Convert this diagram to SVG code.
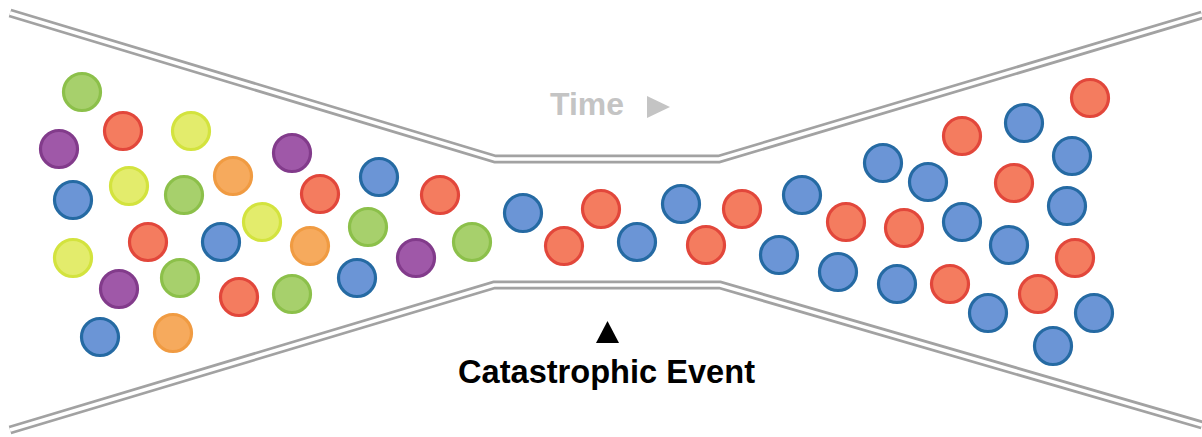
<svg xmlns="http://www.w3.org/2000/svg" width="1202" height="437" viewBox="0 0 1202 437">
<style>
.wall{fill:none;stroke:#a2a2a2;stroke-width:9;stroke-linejoin:miter}
.gap{fill:none;stroke:#ffffff;stroke-width:3.5;stroke-linejoin:miter}
circle{stroke-width:3.2}
.g{fill:#a7d06c;stroke:#8cc04a}
.r{fill:#f47c5f;stroke:#e2473b}
.y{fill:#e3ec6c;stroke:#d3e33e}
.p{fill:#9f58a8;stroke:#823b8b}
.b{fill:#6b95d6;stroke:#256aa3}
.o{fill:#f6aa5d;stroke:#f09b42}
.lbl{font-family:"Liberation Sans",Arial,Helvetica,sans-serif;font-weight:bold}
</style>
<rect width="1202" height="437" fill="#ffffff"/>
<g id="funnel">
<path class="wall" d="M10,13 L495,159 L719,159 L1202,15"/>
<path class="wall" d="M10,430 L494,285 L720,285 L1202,425"/>
<path class="gap" d="M10,13 L495,159 L719,159 L1202,15"/>
<path class="gap" d="M10,430 L494,285 L720,285 L1202,425"/>
</g>
<g id="particles-before">
<circle class="g" cx="82" cy="92" r="18.5"/>
<circle class="p" cx="59" cy="149" r="18.5"/>
<circle class="r" cx="123" cy="131" r="18.5"/>
<circle class="y" cx="191" cy="131" r="18.5"/>
<circle class="b" cx="73" cy="200" r="18.5"/>
<circle class="y" cx="129" cy="186" r="18.5"/>
<circle class="g" cx="184" cy="195" r="18.5"/>
<circle class="o" cx="233" cy="176" r="18.5"/>
<circle class="p" cx="292" cy="153" r="18.5"/>
<circle class="y" cx="73" cy="258" r="18.5"/>
<circle class="r" cx="148" cy="242" r="18.5"/>
<circle class="b" cx="221" cy="242" r="18.5"/>
<circle class="y" cx="262" cy="222" r="18.5"/>
<circle class="r" cx="320" cy="194" r="18.5"/>
<circle class="o" cx="310" cy="246" r="18.5"/>
<circle class="g" cx="368" cy="227" r="18.5"/>
<circle class="b" cx="379" cy="177" r="18.5"/>
<circle class="r" cx="440" cy="195" r="18.5"/>
<circle class="p" cx="416" cy="258" r="18.5"/>
<circle class="b" cx="357" cy="278" r="18.5"/>
<circle class="g" cx="472" cy="242" r="18.5"/>
<circle class="p" cx="119" cy="289" r="18.5"/>
<circle class="g" cx="180" cy="278" r="18.5"/>
<circle class="r" cx="239" cy="297" r="18.5"/>
<circle class="g" cx="292" cy="294" r="18.5"/>
<circle class="b" cx="100" cy="337" r="18.5"/>
<circle class="o" cx="173" cy="333" r="18.5"/>
</g>
<g id="particles-bottleneck">
<circle class="b" cx="523" cy="213" r="18.5"/>
<circle class="r" cx="601" cy="209" r="18.5"/>
<circle class="r" cx="564" cy="246" r="18.5"/>
<circle class="b" cx="637" cy="242" r="18.5"/>
<circle class="b" cx="681" cy="204" r="18.5"/>
<circle class="r" cx="742" cy="209" r="18.5"/>
<circle class="r" cx="706" cy="245" r="18.5"/>
</g>
<g id="particles-after">
<circle class="b" cx="802" cy="195" r="18.5"/>
<circle class="b" cx="779" cy="255" r="18.5"/>
<circle class="r" cx="846" cy="222" r="18.5"/>
<circle class="b" cx="838" cy="272" r="18.5"/>
<circle class="b" cx="883" cy="163" r="18.5"/>
<circle class="b" cx="928" cy="182" r="18.5"/>
<circle class="r" cx="904" cy="228" r="18.5"/>
<circle class="b" cx="897" cy="284" r="18.5"/>
<circle class="r" cx="950" cy="284" r="18.5"/>
<circle class="r" cx="1090" cy="98" r="18.5"/>
<circle class="b" cx="1024" cy="123" r="18.5"/>
<circle class="r" cx="962" cy="136" r="18.5"/>
<circle class="b" cx="1072" cy="156" r="18.5"/>
<circle class="r" cx="1014" cy="183" r="18.5"/>
<circle class="b" cx="1067" cy="206" r="18.5"/>
<circle class="b" cx="962" cy="222" r="18.5"/>
<circle class="b" cx="1009" cy="245" r="18.5"/>
<circle class="r" cx="1075" cy="258" r="18.5"/>
<circle class="r" cx="1038" cy="294" r="18.5"/>
<circle class="b" cx="988" cy="313" r="18.5"/>
<circle class="b" cx="1094" cy="313" r="18.5"/>
<circle class="b" cx="1053" cy="346" r="18.5"/>
</g>
<g id="time-label">
<text class="lbl" x="550" y="115" font-size="31" fill="#c4c4c4" textLength="74" lengthAdjust="spacingAndGlyphs">Time</text>
<polygon points="647,96 670,107 647,118" fill="#c4c4c4"/>
</g>
<g id="event-label">
<polygon points="607.5,321 619,343 596,343" fill="#000000"/>
<text class="lbl" x="458" y="383" font-size="32.5" fill="#000000" textLength="297" lengthAdjust="spacingAndGlyphs">Catastrophic Event</text>
</g>
</svg>
